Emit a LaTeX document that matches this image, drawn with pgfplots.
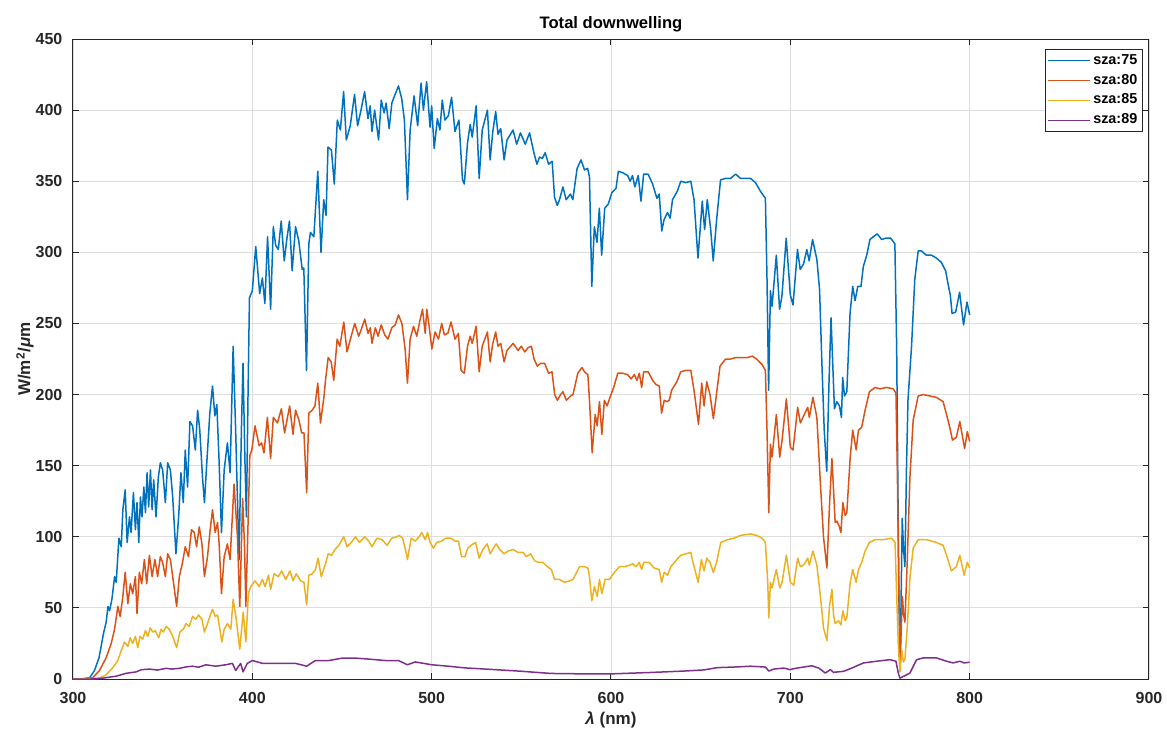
\documentclass[border=0pt]{standalone}
\usepackage{fontspec}
\setmainfont{Liberation Sans}
\usepackage{pgfplots}
\pgfplotsset{compat=1.18}
\definecolor{c1}{rgb}{0,0.447,0.741}
\definecolor{c2}{rgb}{0.850,0.325,0.098}
\definecolor{c3}{rgb}{0.929,0.694,0.125}
\definecolor{c4}{rgb}{0.494,0.184,0.556}
\definecolor{axc}{rgb}{0.15,0.15,0.15}
\begin{document}
\begin{tikzpicture}
\useasboundingbox (-36.5pt,-25pt) rectangle (547pt,339.5pt);
\begin{axis}[
 scale only axis, width=538pt, height=320pt,
 xmin=300, xmax=900, ymin=0, ymax=450,
 xtick={300,400,...,900}, ytick={0,50,...,450},
 grid=major, grid style={color=black!13, line width=0.4pt},
 axis line style={color=axc, line width=0.5pt},
 tick style={color=axc, line width=0.5pt},
 major tick length=3pt, tick align=inside,
 /pgf/number format/assume math mode=true,
 /pgf/number format/1000 sep={},
 ticklabel style={font=\fontsize{8}{9}\selectfont\bfseries, text=axc},
 xticklabel style={anchor=base, yshift=-12pt},
 yticklabel style={anchor=east, xshift=-1.8pt},
 title={Total downwelling},
 every axis title/.style={font=\fontsize{8.3}{10}\selectfont\bfseries, at={(axis description cs:0.5,1)}, anchor=base, yshift=5.5pt},
 xlabel={\textit{λ} (nm)},
 xlabel style={font=\fontsize{8.5}{10}\selectfont\bfseries, text=axc, at={(axis description cs:0.5,0)}, anchor=base, yshift=-22.5pt},
 ylabel={W/m\textsuperscript{2}/\textit{μ}m},
 ylabel style={font=\fontsize{8.5}{10}\selectfont\bfseries, text=axc, at={(axis description cs:-0.0446,0.5)}, rotate=0, anchor=center},
 legend style={at={(axis description cs:1,1)}, anchor=north east, xshift=-3.2pt, yshift=-5pt,
   draw=axc, line width=0.5pt, font=\fontsize{7.2}{8}\selectfont\bfseries, row sep=0.6pt,
   inner xsep=1pt, inner ysep=1pt, nodes={inner sep=1.4pt}},
 legend cell align=left,
 legend image code/.code={\draw[#1, line width=0.6pt] (0pt,0pt) -- (21pt,0pt);},
 every axis plot/.append style={line width=0.75pt, line join=round, mark=none},
]
\addplot[c1] coordinates {
(300,0)(305,0)(309.3,0.9)(312,6)(314.5,15)(315.7,23)(317,32)(318.5,40)(319.5,51)(320.4,48)
(321.7,56)(323.2,72)(324.1,68)(325.6,99)(326.9,93)(327.8,119)(329.1,133)(330.2,96)(331.5,114)(332.4,103)
(333.7,131)(334.8,105)(335.7,124)(336.7,96)(337.6,128)(338.5,114)(339.5,135)(340.4,117)(341.3,145)(342.2,121)
(343.2,147)(344.1,119)(345,140)(346.3,114)(347.6,142)(348.7,152)(350,147)(351.5,124)(352.8,152)(354.3,147)
(355.6,128)(357.4,88)(358.9,114)(360.2,145)(361.5,124)(362.6,161)(363.9,135)(365.2,181)(366.7,178)(368.2,161)
(369.5,189)(370.7,175)(372.2,142)(373.3,124)(374.6,152)(376.3,187)(377.8,206)(379.1,185)(380.2,193)(381.5,152)
(382.8,103)(384.3,147)(386.1,166)(387.6,145)(389.3,234)(390.7,175)(392.6,84)(393.9,175)(394.8,222)(395.9,152)
(396.7,114)(397.6,200)(398.4,268)(400,273)(401.9,304)(404.1,271)(405.6,282)(407,264)(408.5,311)(410.2,260)
(411.7,318)(413,305)(414.5,302)(416.1,322)(417.8,294)(419.3,310)(420.7,322)(422.2,287)(424.1,318)(425.9,308)
(427.8,288)(428.7,289)(430.2,217)(431.5,306)(432.4,314)(434.3,311)(436.5,357)(438.3,300)(439.8,337)(441.1,326)
(442.2,374)(444.1,372)(445.7,348)(447.4,393)(449.1,386)(450.9,413)(452.4,379)(454.6,389)(457,411)(458.7,389)
(460.6,400)(462.6,413)(464.5,394)(465.7,403)(466.7,385)(468.2,400)(470.4,379)(471.9,407)(473.5,398)(474.6,405)
(476.3,387)(477.8,405)(479.6,411)(481.5,417)(483.3,408)(484.8,393)(486.5,337)(488,386)(490.2,410)(492.2,389)
(494.1,419)(495.4,400)(497.2,420)(499.1,388)(500,403)(501.4,373)(503.2,394)(504.6,386)(505.9,407)(507.4,393)
(509.3,396)(511.1,409)(513,385)(515.2,393)(517.2,351)(518.2,348)(520,377)(521.5,390)(522.6,381)(524.8,403)
(526.5,352)(528.2,386)(531.1,400)(532.6,365)(534.1,385)(535.7,399)(537,383)(538.5,387)(540.4,365)(542,379)
(545.4,386)(547.4,376)(549.5,384)(552.2,376)(554.6,384)(557,370)(558.7,362)(560.2,367)(561.7,366)(563.3,370)
(565.2,362)(567.2,364)(568.5,339)(570,333)(571.3,337)(573.2,346)(575,337)(577.4,341)(578.7,337)(581.1,359)
(583.3,365)(585.2,358)(587,359)(588,353)(589.3,276)(590.7,318)(592.2,307)(593.5,331)(594.8,298)(596.5,331)
(598.5,334)(600.5,342)(602.8,345)(604.1,357)(606.5,356)(609.3,354)(610.7,350)(612,354)(613.3,346)(615.2,354)
(616.7,336)(618.2,355)(620.7,355)(623.2,348)(625.6,338)(626.9,341)(628.3,315)(629.6,323)(631.5,328)(633,324)
(634.3,337)(637,343)(638.9,350)(641.7,349)(644.5,350)(646.3,337)(648.5,296)(650.9,336)(652.2,316)(653.7,337)
(655.6,316)(657,294)(658.9,323)(661.1,351)(663.9,352)(666.7,352)(669.5,355)(672.2,352)(675,352)(677.8,352)
(680.6,349)(683.3,343)(686.1,338)(687,281)(687.9,203)(688.9,273)(689.8,262)(692.2,298)(694,260)(695.3,269)
(697.7,310)(700,270)(701.5,263)(704,302)(705.5,288)(707.4,292)(709.2,302)(710.5,294)(712.4,309)(714.8,295)
(716.3,274)(717.6,222)(718.9,175)(720.3,146)(721.6,210)(722.7,254)(723.7,220)(724.6,190)(725.9,195)(727.4,192)
(728.5,184)(729.2,212)(730.2,199)(731.5,202)(733.3,257)(734.8,276)(736.1,266)(737.6,276)(739.4,276)(740.7,290)
(742.6,298)(744.4,309)(746.3,311)(748.5,313)(750.9,309)(753.3,310)(755.9,310)(758.3,306)(759.3,233)(760.5,60)
(761.3,12)(762.4,113)(763.2,90)(763.9,79)(764.8,150)(765.6,196)(767.6,234)(769.4,281)(771.3,301)(773.1,301)
(775.9,298)(778.7,298)(781.4,296)(784.2,293)(786.6,287)(787.9,278)(789.2,270)(790.2,257)(792.2,258)(794.4,272)
(796.6,249)(798.5,265)(800,256)
};
\addlegendentry{sza:75}
\addplot[c2] coordinates {
(300,0)(305,0)(311.1,1)(314.8,6)(318.5,15)(321.3,25)(323.2,35)(325,51)(326.3,44)(327.8,58)
(329.1,75)(330.6,53)(332,67)(333.3,60)(334.8,72)(335.7,46)(337,75)(338.3,67)(339.8,84)(341.1,67)
(342.6,87)(344.1,72)(345.7,84)(347.2,72)(348.7,86)(350,82)(351.5,72)(352.8,88)(354.3,84)(355.6,72)
(357.8,51)(359.3,72)(361.1,82)(362.6,93)(364.4,86)(366.1,105)(367.6,103)(368.9,93)(370.4,107)(371.9,95)
(373.3,72)(375,86)(376.5,105)(377.8,119)(379.3,103)(380.6,110)(381.5,95)(382.8,60)(384.3,86)(386.1,95)
(387.6,84)(389.8,137)(391.7,100)(393,51)(394.6,127)(395.6,95)(396.4,51)(398.6,157)(399.7,161)(401.5,178)
(403.8,164)(405.2,166)(406.5,159)(408.4,184)(410.2,155)(411.7,184)(414,180)(416.2,190)(418,173)(420.8,192)
(422.7,172)(424.1,189)(426,182)(427.5,173)(428.8,173)(430.3,131)(431.5,187)(433.4,189)(434.9,192)(436.5,208)
(438,180)(439.9,198)(440.8,210)(442.3,226)(444,223)(445.4,210)(447.3,239)(448.8,234)(451,251)(452.8,230)
(454.7,239)(457.1,250)(459.3,241)(460.8,246)(462.7,253)(464.5,243)(465.8,247)(466.7,236)(468.6,247)(470.1,241)
(471.9,249)(473.8,242)(475.6,239)(477.8,247)(479.7,249)(481.5,256)(483.4,250)(485.2,232)(486.5,208)(488,239)
(489.9,248)(491.7,241)(493.6,253)(494.9,260)(496.4,243)(497.3,260)(498.6,248)(500.1,232)(501.9,244)(503.8,239)
(505.6,250)(507.1,242)(509,243)(510.8,251)(513,239)(514.9,243)(516.4,217)(518.2,215)(520,234)(521.5,241)
(522.6,236)(524.8,248)(526.5,216)(528.2,234)(531.1,244)(532.6,223)(534.1,236)(535.7,244)(537,234)(538.5,236)
(540.4,223)(542,231)(545.4,236)(548.2,231)(550,234)(551.9,230)(553.8,233)(555.6,234)(557.1,225)(558.9,220)
(560.8,222)(563,222)(565.2,215)(567.1,216)(568.6,200)(570.1,196)(571.9,200)(573.2,202)(575.1,196)(577.5,199)
(578.8,200)(581.5,215)(583.8,219)(585.2,216)(587.1,214)(588,196)(589.5,159)(591.2,186)(592.3,178)(593.6,195)
(594.9,172)(596.3,196)(597.8,192)(599.7,199)(601.5,205)(603.8,215)(606.5,215)(609.3,214)(611.2,211)(613,214)
(614.5,210)(615.8,215)(617.1,205)(618.2,216)(620.8,216)(623.2,210)(625.1,207)(626.9,206)(628.2,187)(629.7,196)
(631.2,195)(632.5,196)(633.8,203)(636.7,209)(638.9,216)(641.7,217)(644.5,217)(646.3,203)(648.8,179)(650.6,208)
(651.9,192)(653.4,209)(655.2,200)(657.1,183)(658.9,201)(660.8,220)(663.9,225)(666.7,225)(669.5,226)(672.3,226)
(676,226)(678.8,227)(681.2,225)(684.3,221)(686.1,217)(687,175)(688,117)(688.9,165)(689.8,156)(692.2,186)
(694.1,156)(695.4,168)(697.8,197)(700,163)(701.5,161)(704.1,191)(705.6,180)(707.4,185)(709.7,191)(710.6,184)
(712.6,198)(714.8,184)(716.7,139)(718.5,100)(720.4,78)(721.9,124)(723.2,155)(724.1,133)(725,110)(726,111)
(727.4,107)(728.2,103)(729.3,124)(730.6,115)(731.5,117)(733.4,156)(734.8,175)(736.7,161)(738,175)(739.8,177)
(741.7,189)(744.1,202)(747.3,205)(750,204)(753.7,205)(757.4,204)(758.9,201)(759.6,152)(760.6,59)(761.2,12)
(762.5,58)(763.2,45)(763.9,40)(765.2,83)(766.7,142)(768.5,182)(771.3,199)(774.1,200)(777.8,199)(781.5,198)
(785.2,195)(787.1,186)(788.9,177)(790.4,168)(792.6,170)(794.5,181)(797.2,162)(798.7,174)(800,167)
};
\addlegendentry{sza:80}
\addplot[c3] coordinates {
(300,0)(305,0)(314.8,0.6)(318.5,3)(322.2,8)(325,13)(326.9,20)(328.7,26)(330.6,23)(331.9,29)
(333.3,25)(334.8,30)(336.1,22)(337.4,30)(338.9,28)(340.4,34)(341.7,30)(343,36)(344.5,33)(345.9,34)
(347.8,29)(349.1,35)(350.4,33)(351.9,37)(353.7,35)(355.6,30)(357.8,22)(359.6,33)(361.5,35)(363,39)
(364.8,37)(366.7,44)(368.5,42)(370,45)(371.9,42)(373.3,33)(375,39)(376.3,44)(377.8,49)(379.3,44)
(380.6,45)(381.9,35)(383,26)(384.3,35)(386.1,39)(388,35)(389.3,56)(390.8,44)(393,21)(394.9,47)
(396.4,26)(397.8,60)(399.1,65)(401.5,69)(403.8,65)(405.6,70)(407.1,65)(409,73)(410.2,63)(412.1,74)
(414.5,72)(416.4,76)(418.6,70)(421,76)(422.7,69)(424.5,74)(426.9,69)(428.8,68)(430.3,52)(431.5,73)
(433.4,74)(435.2,77)(436.7,85)(438.4,72)(440.8,81)(442.3,88)(444.1,87)(446,91)(448.2,94)(451,100)
(452.8,93)(455.2,96)(457.5,100)(459.7,96)(462.7,100)(464.9,97)(466.7,93)(469.5,99)(472.3,98)(475.1,94)
(477.8,99)(480.6,100)(481.9,101)(483.8,99)(485.2,92)(486.5,84)(488.6,99)(490.8,97)(493,100)(494.5,103)
(496.4,98)(497.7,103)(499.1,96)(501,92)(502.8,96)(505.6,97)(507.8,99)(510.8,99)(513,97)(514.9,97)
(516.7,86)(518.6,86)(520.1,92)(522,94)(524.5,96)(526.5,85)(528.5,91)(531,95)(532.6,88)(534.5,92)
(536,95)(538,91)(540.4,88)(542.5,90)(545.5,91)(548.2,89)(551,89)(552.8,86)(555.2,88)(557.5,83)
(559.7,82)(562.1,82)(564.5,79)(566.7,77)(568.6,70)(571.3,70)(574.1,68)(576.9,69)(578.8,70)(582.5,79)
(585.2,79)(587.1,78)(588,72)(589.3,55)(590.8,65)(592.3,58)(593.6,70)(594.9,60)(596.7,70)(599.1,70)
(601.9,75)(604.7,79)(607.5,79)(610.2,80)(612.1,81)(613.9,79)(615.8,82)(617.1,77)(618.2,82)(621.3,82)
(624.1,78)(626.9,77)(628.2,68)(629.7,75)(631.5,73)(633.4,79)(636.7,84)(638.9,87)(641.7,88)(644.5,89)
(646.3,79)(648.6,68)(650.4,84)(651.9,76)(653.4,85)(655.2,82)(657.1,75)(658.9,82)(661.2,96)(664.9,98)
(668.6,99)(672.3,101)(677.8,102)(681.2,101)(684.3,99)(686.1,96)(687.4,68)(688,43)(688.9,68)(689.8,64)
(692.2,77)(694.1,64)(695.4,68)(697.8,87)(700,68)(701.9,66)(704.1,85)(705.6,79)(707.4,80)(709.7,85)
(710.6,80)(712.6,90)(714.8,80)(716.7,59)(718.5,36)(720.4,27)(721.9,52)(723.2,63)(724.1,45)(725,39)
(726.9,41)(728.2,38)(729.3,48)(730.6,41)(731.5,43)(733.4,68)(734.8,77)(736.7,68)(738,77)(739.8,82)
(741.7,90)(744.1,96)(747.3,98)(751.9,98)(756.5,99)(758.4,96)(759.3,59)(760.2,24)(761.1,5)(762.2,20)
(763,12)(763.9,14)(765.2,36)(766.7,71)(768.5,92)(771.3,98)(775.9,98)(781.5,96)(785.2,94)(787.1,87)
(789.8,76)(792.6,79)(794.5,87)(796.9,73)(798.7,82)(800,78)
};
\addlegendentry{sza:85}
\addplot[c4] coordinates {
(300,0)(310,0)(316.7,0.6)(324.1,2)(329.6,4)(335.2,5)(338,6.5)(342.6,7)(347,6.3)(351.9,7.5)
(355,7)(359.3,7.5)(363,8.5)(366.7,9)(370,8.3)(374.1,10)(379.6,9)(385.2,10)(388.9,11)(390.7,6)
(393.5,11)(394.8,5)(397.2,11)(400,13)(405.6,11)(414.9,11)(424.1,11)(430.3,9)(435.2,13)(442.7,13)
(450.1,14.7)(457.5,14.7)(464.9,14)(474.1,13)(481.5,13)(486.5,10)(490.8,12)(500.1,10)(509.3,9)(518.6,7.8)
(530,7)(548.2,5.6)(566.7,3.9)(585.2,3.6)(600,3.6)(622.3,4.6)(640.8,5.6)(651.9,6.4)(659.3,8)(670.4,8.5)
(677.8,9)(686.1,8.4)(688,5.6)(690.8,7)(696.3,7.7)(699.7,6.6)(703.7,7.7)(712,9.3)(715.8,7.7)(719.5,4.2)
(722.3,6.6)(724.1,4.7)(729.7,5.4)(734.3,7.7)(740.8,11.3)(748.2,12.5)(755.6,13.6)(758.9,12.5)(760.2,4.2)(761.1,0.6)
(763,1.8)(766.7,4.2)(770.4,13.6)(774.1,14.8)(781.5,14.8)(787.1,12.5)(790.8,11.3)(794.5,12.5)(796.9,11.3)(800,11.8)
};
\addlegendentry{sza:89}
\end{axis}
\end{tikzpicture}
\end{document}
